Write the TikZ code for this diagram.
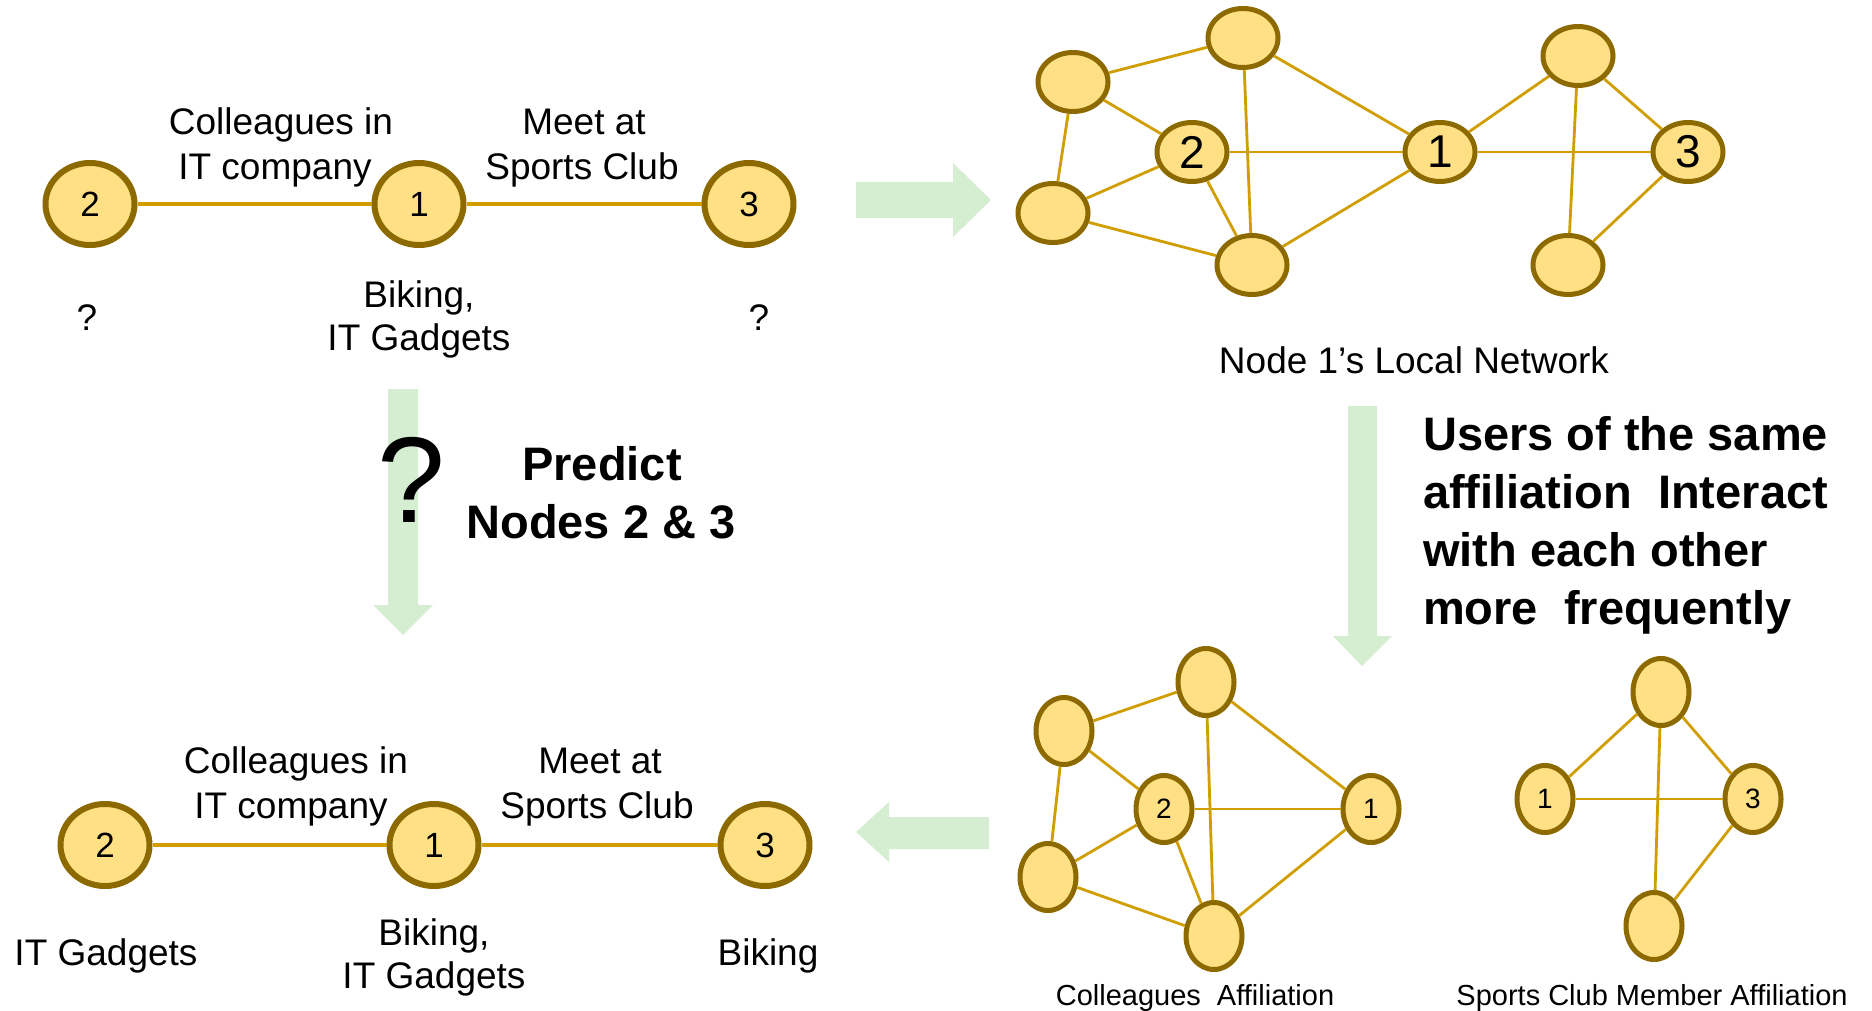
\documentclass[tikz,border=0pt]{standalone}
\usepackage{fontspec}
\setmainfont{Liberation Sans}
\usetikzlibrary{shapes.geometric}
\definecolor{nodefill}{RGB}{255,224,133}
\definecolor{nodeborder}{RGB}{140,106,0}
\definecolor{edgecol}{RGB}{208,158,0}
\definecolor{arrowgreen}{RGB}{213,237,208}
\tikzset{
  bignode/.style={ellipse, draw=nodeborder, fill=nodefill, line width=6pt,
    minimum width=89pt, minimum height=82pt, inner sep=0pt,
    font=\fontsize{35}{35}\selectfont},
  netnode/.style={ellipse, draw=nodeborder, fill=nodefill, line width=5pt,
    minimum width=70pt, minimum height=59pt, inner sep=0pt,
    font=\fontsize{46}{46}\selectfont},
  smallnode/.style={ellipse, draw=nodeborder, fill=nodefill, line width=5pt,
    minimum width=56pt, minimum height=67pt, inner sep=0pt,
    font=\fontsize{28}{28}\selectfont},
  link/.style={draw=edgecol, line width=3.2pt},
  thinlink/.style={draw=edgecol, line width=2.8pt},
  lbl/.style={anchor=base, inner sep=0pt, font=\fontsize{37}{44}\selectfont},
  caption/.style={anchor=base, inner sep=0pt, font=\fontsize{29}{34}\selectfont},
  boldlbl/.style={anchor=base, inner sep=0pt, font=\fontsize{47}{58}\selectfont\bfseries},
  boldleft/.style={anchor=base west, inner sep=0pt, font=\fontsize{47}{58}\selectfont\bfseries},
  fatarrow/.style={fill=arrowgreen, draw=none}
}
\begin{document}
\begin{tikzpicture}[x=1pt,y=-1pt]
\useasboundingbox[fill=white] (0,0) rectangle (1872,1011);

% ---------- green arrows ----------
% top: right
\fill[fatarrow] (856,182) -- (953,182) -- (953,163) -- (991,200) -- (953,237) -- (953,218) -- (856,218) -- cycle;
% left: down
\fill[fatarrow] (388,389) -- (418,389) -- (418,605) -- (433,605) -- (403,635) -- (373,605) -- (388,605) -- cycle;
% right: down
\fill[fatarrow] (1348,406) -- (1377,406) -- (1377,636) -- (1392,636) -- (1362,666) -- (1333,636) -- (1348,636) -- cycle;
% bottom: left
\fill[fatarrow] (989,817) -- (889,817) -- (889,802) -- (856,832) -- (889,862) -- (889,849) -- (989,849) -- cycle;

% ---------- top-left graph ----------
\node[bignode] (tl2) at (90,204) {2};
\node[bignode] (tl1) at (419,204) {1};
\node[bignode] (tl3) at (749,204) {3};
\draw[link] (tl2) -- (tl1);
\draw[link] (tl1) -- (tl3);
\node[lbl] (tlc1) at (281,135) {Colleagues in};
\node[lbl] (tlc2) at (275,180) {IT company};
\node[lbl] (tlm1) at (584,135) {Meet at};
\node[lbl] (tlm2) at (582,180) {Sports Club};
\node[lbl] (tlb1) at (419,307) {Biking,};
\node[lbl] (tlb2) at (419,350) {IT Gadgets};
\node[lbl] (tlq2) at (87,330) {?};
\node[lbl] (tlq3) at (759,330) {?};

% ---------- predict ----------
\node[anchor=base, inner sep=0pt, font=\fontsize{122}{122}\selectfont] (bigq) at (411,522) {?};
\node[boldlbl] (pr1) at (602,480) {Predict};
\node[boldlbl] (pr2) at (601,538) {Nodes 2 \& 3};

% ---------- bottom-left graph ----------
\node[bignode] (bl2) at (105,845) {2};
\node[bignode] (bl1) at (434,845) {1};
\node[bignode] (bl3) at (765,845) {3};
\draw[link] (bl2) -- (bl1);
\draw[link] (bl1) -- (bl3);
\node[lbl] (blc1) at (296,773) {Colleagues in};
\node[lbl] (blc2) at (291,818) {IT company};
\node[lbl] (blm1) at (600,773) {Meet at};
\node[lbl] (blm2) at (597,818) {Sports Club};
\node[lbl] (bla2) at (106,965) {IT Gadgets};
\node[lbl] (blb1) at (434,945) {Biking,};
\node[lbl] (blb2) at (434,988) {IT Gadgets};
\node[lbl] (bla3) at (768,965) {Biking};

% ---------- top-right network ----------
\node[netnode] (nA) at (1073,82) {};
\node[netnode] (nB) at (1243,38) {};
\node[netnode] (n2) at (1192,152) {2};
\node[netnode] (n1) at (1440,152) {1};
\node[netnode] (nC) at (1053,213) {};
\node[netnode] (nD) at (1252,265) {};
\node[netnode] (nE) at (1578,56) {};
\node[netnode] (n3) at (1688,152) {3};
\node[netnode] (nF) at (1568,265) {};
\draw[thinlink] (nA) -- (nB);
\draw[thinlink] (nA) -- (n2);
\draw[thinlink] (nA) -- (nC);
\draw[thinlink] (nB) -- (n1);
\draw[thinlink] (nB) -- (nD);
\draw[thinlink] (n2) -- (n1);
\draw[thinlink] (n2) -- (nC);
\draw[thinlink] (n2) -- (nD);
\draw[thinlink] (nC) -- (nD);
\draw[thinlink] (nD) -- (n1);
\draw[thinlink] (n1) -- (nE);
\draw[thinlink] (n1) -- (n3);
\draw[thinlink] (nE) -- (n3);
\draw[thinlink] (nE) -- (nF);
\draw[thinlink] (nF) -- (n3);
\node[lbl] (local) at (1414,373) {Node 1’s Local Network};

% ---------- statement ----------
\node[boldleft] (s1) at (1423,450) {Users of the same};
\node[boldleft] (s2) at (1423,508) {affiliation\ \ Interact};
\node[boldleft] (s3) at (1423,566) {with each other};
\node[boldleft] (s4) at (1423,624) {more\ \ frequently};

% ---------- colleagues affiliation ----------
\node[smallnode] (cA) at (1064,731) {};
\node[smallnode] (cB) at (1206,682) {};
\node[smallnode] (c2) at (1164,809) {2};
\node[smallnode] (c1) at (1371,809) {1};
\node[smallnode] (cC) at (1048,877) {};
\node[smallnode] (cD) at (1214,936) {};
\draw[thinlink] (cA) -- (cB);
\draw[thinlink] (cA) -- (c2);
\draw[thinlink] (cA) -- (cC);
\draw[thinlink] (cB) -- (c1);
\draw[thinlink] (cB) -- (cD);
\draw[thinlink] (c2) -- (c1);
\draw[thinlink] (c2) -- (cC);
\draw[thinlink] (c2) -- (cD);
\draw[thinlink] (cC) -- (cD);
\draw[thinlink] (cD) -- (c1);
\node[caption] (capc) at (1195,1005) {Colleagues\ \ Affiliation};

% ---------- sports club affiliation ----------
\node[smallnode] (sE) at (1661,692) {};
\node[smallnode] (s1n) at (1545,799) {1};
\node[smallnode] (s3n) at (1753,799) {3};
\node[smallnode] (sF) at (1654,926) {};
\draw[thinlink] (sE) -- (s1n);
\draw[thinlink] (sE) -- (s3n);
\draw[thinlink] (sE) -- (sF);
\draw[thinlink] (s1n) -- (s3n);
\draw[thinlink] (s3n) -- (sF);
\node[caption] (caps) at (1652,1005) {Sports Club Member Affiliation};
\end{tikzpicture}
\end{document}
